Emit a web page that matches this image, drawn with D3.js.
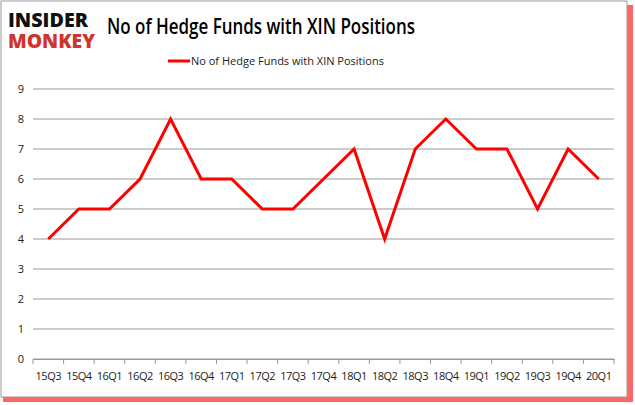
<!DOCTYPE html>
<html><head><meta charset="utf-8">
<script src="https://cdn.jsdelivr.net/npm/d3@7"></script>
<style>body{margin:0;background:#fff}text{font-family:"Open Sans",Calibri,sans-serif}</style>
</head><body><svg id="c" width="635" height="405"></svg>
<script>
const categories=["15Q3","15Q4","16Q1","16Q2","16Q3","16Q4","17Q1","17Q2","17Q3","17Q4","18Q1","18Q2","18Q3","18Q4","19Q1","19Q2","19Q3","19Q4","20Q1"];
const values=[4,5,5,6,8,6,6,5,5,6,7,4,7,8,7,7,5,7,6];
const yTicks=[0,1,2,3,4,5,6,7,8,9];
const svg=d3.select("#c");
svg.append("rect").attr("x",3).attr("y",5).attr("width",630).attr("height",397).attr("fill","#f00").attr("opacity",0.6);
svg.append("rect").attr("x",1).attr("y",1).attr("width",626).attr("height",396).attr("fill","#fff").attr("stroke","#999");
const x=d3.scaleBand().domain(categories).range([33,614]);
const y=d3.scaleLinear().domain([0,9]).range([359,89]);
svg.append("g").selectAll("line").data(yTicks).join("line").attr("x1",33).attr("x2",614).attr("y1",d=>y(d)).attr("y2",d=>y(d)).attr("stroke","#999").attr("stroke-width",1);
svg.append("g").selectAll("text").data(yTicks).join("text").attr("x",24).attr("y",d=>y(d)+4).attr("text-anchor","end").attr("font-size",11).attr("fill","#222").text(d=>d);
const xa=svg.append("g").attr("transform","translate(0,359)").call(d3.axisBottom(x).tickSize(5).tickSizeOuter(0));
xa.select(".domain").attr("stroke","#999");
xa.selectAll("line").attr("stroke","#999").attr("x1",-x.bandwidth()/2).attr("x2",-x.bandwidth()/2);
xa.append("line").attr("x1",614).attr("x2",614).attr("y1",0).attr("y2",5).attr("stroke","#999");
xa.selectAll("text").attr("font-size",11).attr("fill","#222").attr("font-family","Open Sans").attr("dy","1.2em").attr("letter-spacing",-0.5);
svg.append("path").datum(values).attr("fill","none").attr("stroke","#f00").attr("stroke-width",3)
 .attr("d",d3.line().x((d,i)=>x(categories[i])+x.bandwidth()/2).y(d=>y(d)));
svg.append("text").attr("x",107).attr("y",34).attr("font-size",21).attr("font-weight","600").attr("fill","#000").attr("font-family","Open Sans").attr("textLength",308).attr("lengthAdjust","spacingAndGlyphs").text("No of Hedge Funds with XIN Positions");
svg.append("line").attr("x1",168).attr("x2",190).attr("y1",61).attr("y2",61).attr("stroke","#f00").attr("stroke-width",3);
svg.append("text").attr("x",191).attr("y",65).attr("font-size",11).attr("fill","#222").text("No of Hedge Funds with XIN Positions");
svg.append("text").attr("x",8).attr("y",27).attr("font-size",19).attr("font-weight","900").attr("fill","#111").attr("font-family","DejaVu Sans").attr("textLength",80).attr("lengthAdjust","spacingAndGlyphs").text("INSIDER");
svg.append("text").attr("x",8).attr("y",48).attr("font-size",19).attr("font-weight","900").attr("fill","#d0342c").attr("font-family","DejaVu Sans").attr("textLength",87).attr("lengthAdjust","spacingAndGlyphs").text("MONKEY");
</script></body></html>
